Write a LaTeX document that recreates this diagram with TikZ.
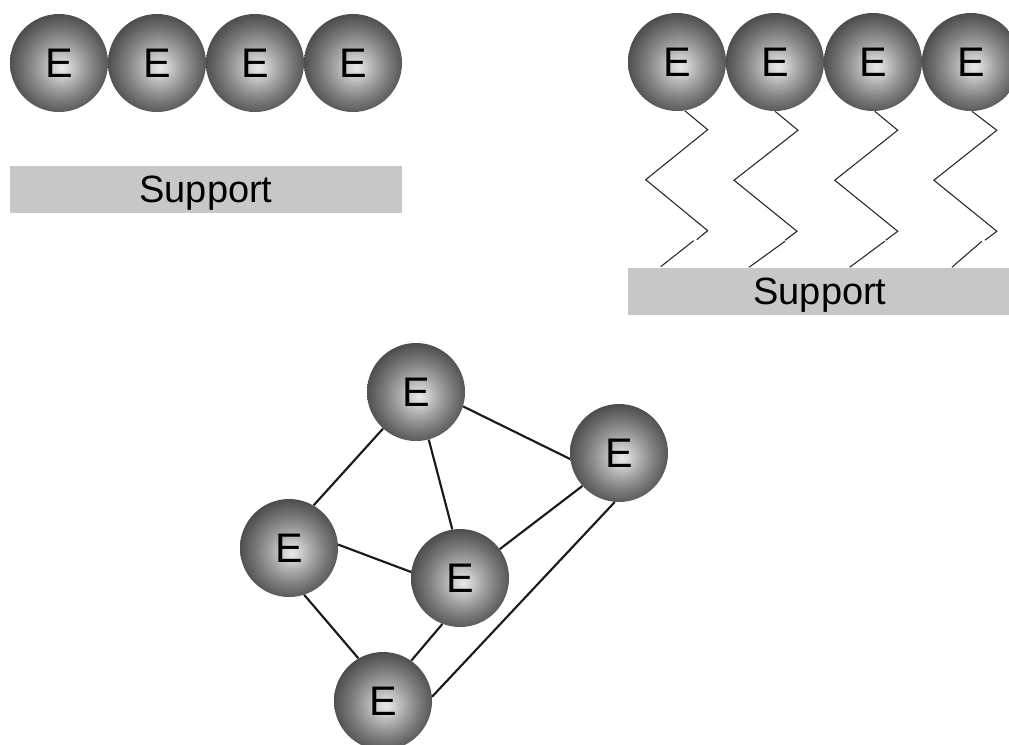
\documentclass[tikz,border=0pt]{standalone}
\usepackage{fontspec}
\setmainfont{Liberation Sans}
\usetikzlibrary{calc}
\definecolor{sphA}{HTML}{EAEAEA}
\definecolor{sphB}{HTML}{D2D2D2}
\definecolor{sphC}{HTML}{A8A8A8}
\definecolor{sphD}{HTML}{7E7E7E}
\definecolor{sphE}{HTML}{4E4E4E}
\definecolor{supportgray}{HTML}{C7C7C7}
\definecolor{edgecol}{HTML}{1A1A1A}
\pgfdeclareradialshading{sphereshade}{\pgfpoint{1.5bp}{-2.5bp}}{color(0bp)=(sphA); color(4bp)=(sphB); color(10bp)=(sphC); color(17bp)=(sphD); color(26bp)=(sphE); color(50bp)=(sphE)}
\tikzset{
  sphere/.style={circle, minimum size=73.5pt, inner sep=0pt, shading=sphereshade, font=\fontsize{31}{32}\selectfont, text=black},
  supportbox/.style={rectangle, fill=supportgray, inner sep=0pt, text depth=0pt, font=\fontsize{28.5}{30}\selectfont, text=black},
  tether/.style={draw=black!85, line width=0.8pt, line join=miter},
  link/.style={draw=edgecol, line width=1.6pt}
}
\begin{document}
\begin{tikzpicture}[x=0.75pt,y=-0.75pt]
\useasboundingbox (0,0) rectangle (1009,744);
% ---- top left: adsorbed ----
\node[supportbox, minimum width=294pt, minimum height=35.25pt] (supL) at (206,189.5) {Support};
\node[sphere] (l1) at (59,63) {E};
\node[sphere] (l2) at (157,63) {E};
\node[sphere] (l3) at (255,63) {E};
\node[sphere] (l4) at (353,63) {E};
% ---- top right: tethered ----
\node[supportbox, minimum width=288pt, minimum height=35.25pt] (supR) at (820,291.5) {Support};
\node[sphere] (r1) at (677,62) {E};
\node[sphere] (r2) at (775,62) {E};
\node[sphere] (r3) at (873,62) {E};
\node[sphere] (r4) at (971,62) {E};
\draw[tether] (r1.-81) -- ++(23,19) -- ++(-62,50) -- ++(62,51) -- ++(-11,9);
\draw[tether] (r1.-81) ++(9,130) -- ++(-33,26) coordinate (t1);
\draw[tether] (r2.-90) -- ++(23,19) -- ++(-64,50) -- ++(63,51) -- ++(-12,9);
\draw[tether] (r2.-90) ++(10,130) -- ++(-36,26) coordinate (t2);
\draw[tether] (r3.-88) -- ++(23,19) -- ++(-63,50) -- ++(63,51) -- ++(-12,9);
\draw[tether] (r3.-88) ++(10,130) -- ++(-35,26) coordinate (t3);
\draw[tether] (r4.-89) -- ++(25,19) -- ++(-63,50) -- ++(63,51) -- ++(-12,9);
\draw[tether] (r4.-89) ++(10,130) -- ++(-30,26) coordinate (t4);
% ---- bottom: cross-linked ----
\node[sphere] (c1) at (416,392) {E};
\node[sphere] (c2) at (619,453) {E};
\node[sphere] (c3) at (289,548) {E};
\node[sphere] (c4) at (460,578) {E};
\node[sphere] (c5) at (383,701) {E};
\draw[link] (c1.-17) -- (c2.187);
\draw[link] (c1.228) -- (c3.60);
\draw[link] (c1.-75) -- (c4.99);
\draw[link] (c3.4) -- (c4.173);
\draw[link] (c3.-72) -- (c5.120);
\draw[link] (c4.36) -- (c2.222);
\draw[link] (c4.-111) -- (c5.55);
\draw[link] (c2.-95) -- (c5.5);
\end{tikzpicture}
\end{document}
